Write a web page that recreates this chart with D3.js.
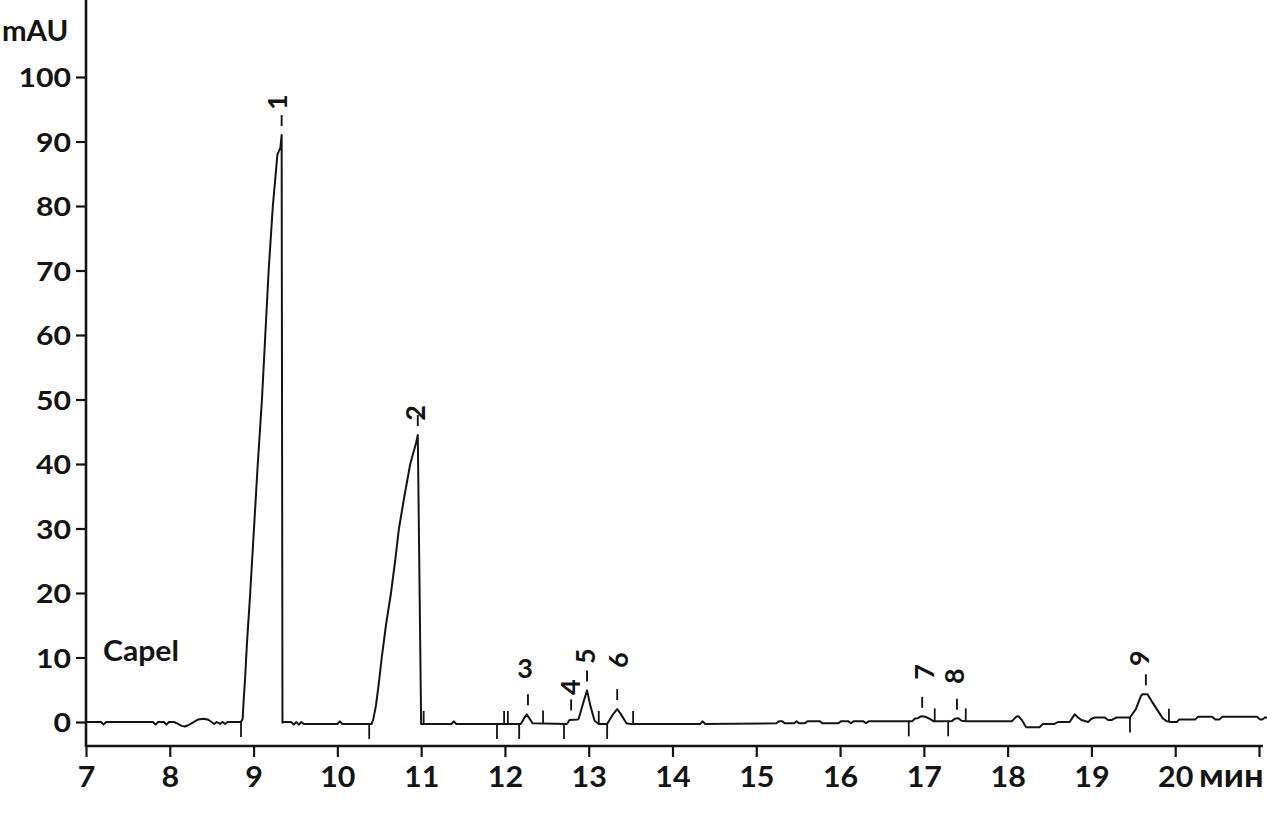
<!DOCTYPE html>
<html>
<head>
<meta charset="utf-8">
<script src="https://cdn.jsdelivr.net/npm/d3@7"></script>
<style>
  html, body { margin: 0; padding: 0; background: #fff; }
  svg { display: block; }
  text { font-family: Lato, "Open Sans", sans-serif; font-weight: 700; fill: #141414; }
</style>
</head>
<body>
<svg id="chart" width="1267" height="827"></svg>
<script>
// ---- data ----
const xTicks = [7, 8, 9, 10, 11, 12, 13, 14, 15, 16, 17, 18, 19, 20, 21];
const yTicks = [0, 10, 20, 30, 40, 50, 60, 70, 80, 90, 100];
const xUnit = "мин";
const yUnit = "mAU";
const sampleName = "Capel";

// chromatogram trace: retention time (min) and absorbance (mAU)
const traceT = [
  7.00, 7.18, 7.21, 7.24, 7.80, 7.83, 7.86, 7.93, 7.96, 7.99, 8.05, 8.10, 8.14, 8.18, 8.22, 8.26, 8.30, 8.34, 8.40, 8.45,
  8.50, 8.53, 8.56, 8.60, 8.63, 8.66, 8.69, 8.85,
  8.87, 8.88, 8.90, 8.92, 8.96, 9.005, 9.05, 9.10, 9.14, 9.18, 9.23, 9.285, 9.32, 9.335, 9.345,
  9.36, 9.45, 9.48, 9.51, 9.54, 9.57, 9.60, 10.00, 10.03, 10.06, 10.41,
  10.43, 10.46, 10.49, 10.53, 10.58, 10.64, 10.69, 10.735, 10.80, 10.87, 10.94, 10.96, 11.00,
  11.36, 11.39, 11.42, 12.19, 12.23, 12.26, 12.29, 12.33, 12.74, 12.77, 12.87,
  12.88, 12.935, 12.98, 13.02, 13.07, 13.12, 13.22, 13.29, 13.34, 13.38, 13.45, 13.50,
  14.33, 14.36, 14.39, 15.24, 15.27, 15.31, 15.34, 15.45, 15.48, 15.51, 15.58, 15.61, 15.76, 15.79,
  15.98, 16.01, 16.10, 16.13, 16.16, 16.28, 16.31, 16.34, 16.86,
  16.89, 16.93, 16.97, 17.02, 17.07, 17.12, 17.33, 17.37, 17.41, 17.45, 17.50,
  18.05, 18.10, 18.13, 18.17, 18.22, 18.38, 18.42, 18.56, 18.60, 18.74, 18.77, 18.80, 18.84, 18.88,
  18.96, 19.00, 19.04, 19.16, 19.20, 19.24, 19.30, 19.46,
  19.53, 19.59, 19.61, 19.67, 19.73, 19.78, 19.85, 19.90, 19.95, 20.02, 20.05, 20.24, 20.27, 20.44,
  20.48, 20.53, 20.56, 20.98, 21.01, 21.04, 21.07, 21.12
];
const traceV = [
  0, 0, -0.4, 0, 0, -0.4, 0, 0, -0.4, 0, 0, -0.3, -0.6, -0.7, -0.5, -0.2, 0.1, 0.4, 0.5, 0.4,
  0, -0.3, 0, -0.3, 0, -0.3, 0, 0,
  0.5, 3, 7, 12, 20, 30, 40, 50, 60, 70, 80, 88, 89, 91, -0.1,
  0, 0, -0.4, 0, -0.4, 0, -0.3, -0.3, 0.1, -0.3, -0.3,
  0.5, 2.5, 5.5, 10, 15, 20, 25, 30, 35, 40, 43.3, 44.5, -0.3,
  -0.3, 0.1, -0.3, -0.3, 0.6, 1.2, 0.6, -0.2, -0.3, 0.3, 0.4,
  0.5, 3, 4.9, 2.5, 0.2, -0.3, -0.3, 1.2, 2.0, 1.3, -0.2, -0.3,
  -0.3, 0.1, -0.3, -0.2, 0.1, 0.1, -0.2, -0.2, 0.1, -0.2, -0.2, 0.1, 0.1, -0.2,
  -0.2, 0.1, 0.1, -0.2, 0.1, 0.1, -0.2, 0.1, 0.1,
  0.5, 0.6, 0.9, 0.8, 0.5, 0.1, 0.1, 0.5, 0.6, 0.2, 0.1,
  0.1, 0.8, 0.9, 0.3, -0.8, -0.8, -0.3, -0.3, 0, 0, 0.6, 1.2, 0.7, 0.3,
  0, 0.5, 0.7, 0.7, 0.3, 0.3, 0.7, 0.7,
  2, 4.0, 4.3, 4.3, 3.0, 2.0, 0.6, 0.1, 0, 0, 0.4, 0.4, 0.8, 0.8,
  0.4, 0.4, 0.8, 0.8, 0.4, 0.4, 0.7, 0.7
];

// peak annotations
const peakNames = ["1", "2", "3", "4", "5", "6", "7", "8", "9"];
const peakT     = [9.335, 10.96, 12.275, 12.79, 12.98, 13.34, 16.98, 17.395, 19.65];
const peakApex  = [91, 44.5, 1.2, 0.4, 4.9, 2.0, 0.8, 0.5, 4.3];
const labelT    = [9.28, 10.93, 12.24, 12.78, 12.955, 13.35, 17.01, 17.36, 19.57];
const labelV    = [96.1, 47.9, 8.4, 5.4, 10.2, 9.6, 7.75, 7.1, 9.9];

// integration events (peak start / peak end)
const startEventsT = [8.85, 10.38, 11.905, 12.17, 12.705, 13.22, 16.82, 17.29, 19.46];
const endEventsT   = [11.03, 11.99, 12.035, 12.455, 13.12, 13.53, 17.13, 17.50, 19.925];

// ---- drawing ----
const svg = d3.select("#chart");
const ink = "#141414";

const x = d3.scaleLinear().domain([7, 21]).range([86, 1259]);
const y = d3.scaleLinear().domain([0, 100]).range([722, 77]);
const axisY = 746;

// axis lines
svg.append("line").attr("x1", 86).attr("x2", 86).attr("y1", 0).attr("y2", axisY + 1)
  .attr("stroke", ink).attr("stroke-width", 2.6);
svg.append("line").attr("x1", 85).attr("x2", 1263).attr("y1", axisY).attr("y2", axisY)
  .attr("stroke", ink).attr("stroke-width", 2.4);

// x axis ticks
const gx = svg.append("g").attr("transform", `translate(0,${axisY})`)
  .call(d3.axisBottom(x).tickValues(xTicks).tickSize(11).tickSizeOuter(0)
    .tickFormat(d => d === 21 ? "" : String(d)));
gx.select(".domain").remove();
gx.selectAll(".tick line").attr("stroke", ink).attr("stroke-width", 2.2);
gx.selectAll(".tick text").attr("y", 0).attr("dy", 0)
  .attr("transform", "translate(0,41) scale(1.05,1)")
  .style("font-size", "29px").style("font-family", "Lato, 'Open Sans', sans-serif")
  .style("font-weight", 700).attr("fill", ink);

svg.append("text").attr("transform", "translate(1199,787) scale(1.08,1)")
  .style("font-size", "32px").text(xUnit);

// y axis ticks
const gy = svg.append("g").attr("transform", "translate(86,0)")
  .call(d3.axisLeft(y).tickValues(yTicks).tickSize(10).tickSizeOuter(0).tickFormat(d3.format("d")));
gy.select(".domain").remove();
gy.selectAll(".tick line").attr("stroke", ink).attr("stroke-width", 2.2);
gy.selectAll(".tick text").attr("x", 0).attr("dy", "0.36em")
  .attr("transform", "translate(-15,0) scale(1.12,1)")
  .style("font-size", "27px").style("font-family", "Lato, 'Open Sans', sans-serif")
  .style("font-weight", 700).attr("fill", ink);

svg.append("text").attr("transform", "translate(2,41) scale(1.05,1)").style("font-size", "28px").text(yUnit);
svg.append("text").attr("transform", "translate(103,661) scale(1.04,1)").style("font-size", "29px").text(sampleName);

// trace
const trace = traceT.map((t, i) => [t, traceV[i]]);
const line = d3.line().x(d => x(d[0])).y(d => y(d[1]));
svg.append("path").datum(trace).attr("d", line)
  .attr("fill", "none").attr("stroke", ink).attr("stroke-width", 2)
  .attr("stroke-linejoin", "round");

// value of the trace at time t
const bis = d3.bisector(d => d).left;
function valueAt(t) {
  let i = bis(traceT, t);
  if (i <= 0) return traceV[0];
  if (i >= traceT.length) return traceV[traceV.length - 1];
  const t0 = traceT[i - 1], t1 = traceT[i];
  const f = (t - t0) / (t1 - t0);
  return traceV[i - 1] + f * (traceV[i] - traceV[i - 1]);
}

// integration events
svg.append("g").selectAll("line").data(startEventsT).join("line")
  .attr("x1", d => x(d)).attr("x2", d => x(d))
  .attr("y1", d => y(valueAt(d))).attr("y2", d => y(valueAt(d)) + 15)
  .attr("stroke", ink).attr("stroke-width", 1.8);
svg.append("g").selectAll("line").data(endEventsT).join("line")
  .attr("x1", d => x(d)).attr("x2", d => x(d))
  .attr("y1", d => y(valueAt(d))).attr("y2", d => y(valueAt(d)) - 13)
  .attr("stroke", ink).attr("stroke-width", 1.8);

// peak markers and labels
const peaks = peakNames.map((n, i) => ({ n, t: peakT[i], apex: peakApex[i], lt: labelT[i], lv: labelV[i] }));
svg.append("g").selectAll("line").data(peaks).join("line")
  .attr("x1", d => x(d.t)).attr("x2", d => x(d.t))
  .attr("y1", d => y(d.apex) - 9).attr("y2", d => y(d.apex) - 20)
  .attr("stroke", ink).attr("stroke-width", 1.9);

svg.append("g").selectAll("text").data(peaks).join("text")
  .attr("text-anchor", "middle").attr("dy", "0.36em")
  .style("font-size", "27px")
  .attr("transform", d => {
    const px = x(d.lt), py = y(d.lv);
    return d.n === "3" ? `translate(${px},${py})` : `translate(${px},${py}) rotate(-90)`;
  })
  .text(d => d.n);
</script>
</body>
</html>
